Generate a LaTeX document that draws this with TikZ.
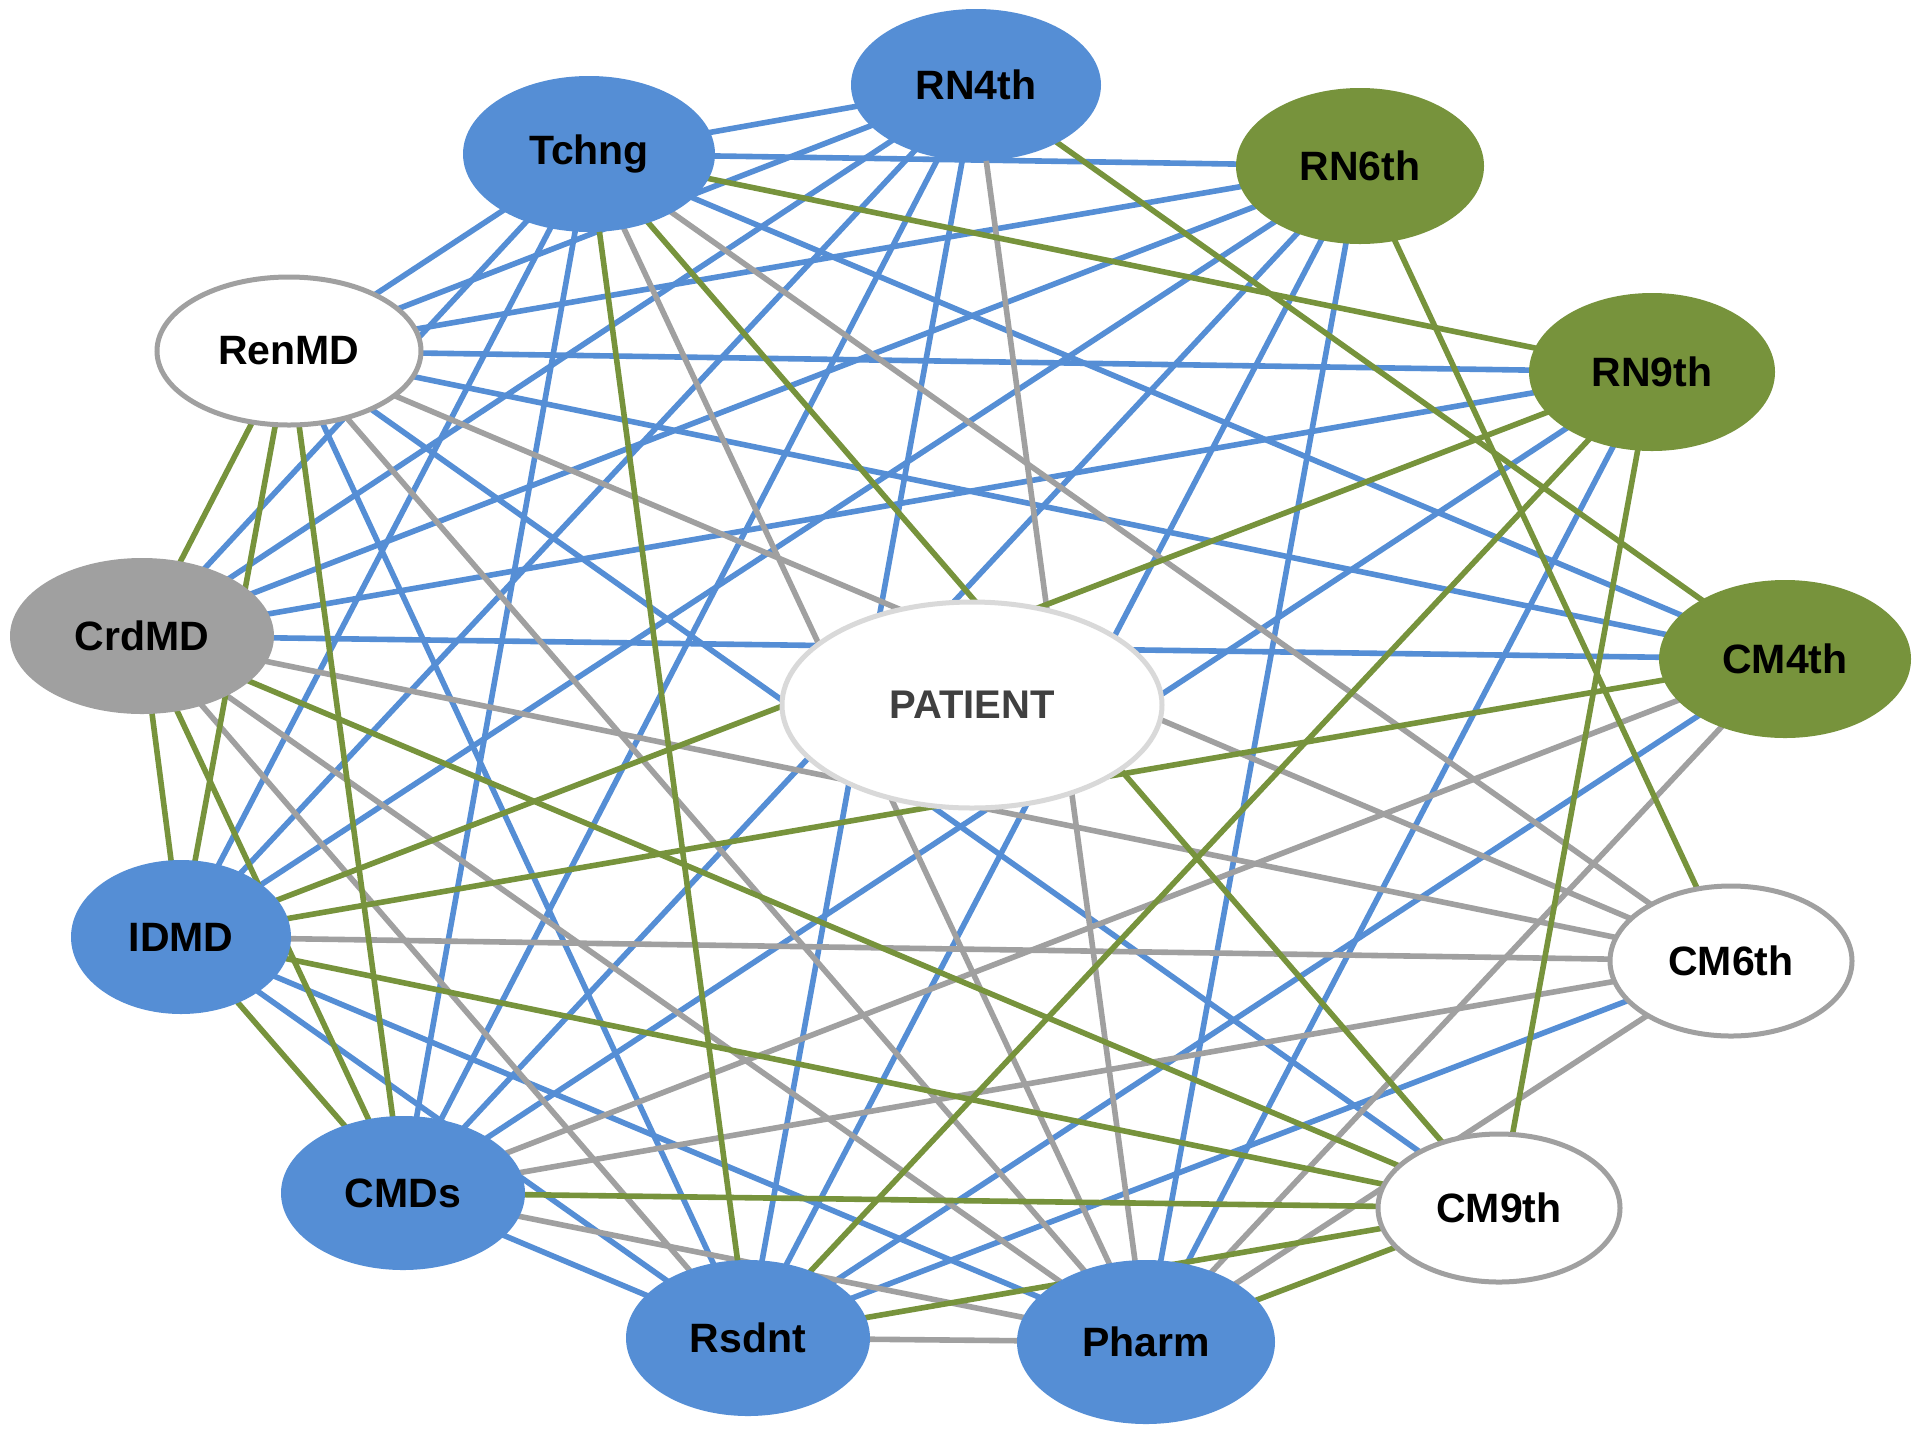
\documentclass[tikz,border=0pt]{standalone}
\usepackage{fontspec}
\setmainfont{Liberation Sans}
\usetikzlibrary{shapes.geometric}
\pgfdeclarelayer{bg}
\pgfsetlayers{bg,main}
\definecolor{eblue}{HTML}{558ED5}
\definecolor{egreen}{HTML}{77933C}
\definecolor{egray}{HTML}{A0A0A0}
\definecolor{pborder}{HTML}{D9D9D9}
\definecolor{ptext}{HTML}{404040}
\begin{document}
\begin{tikzpicture}[x=1pt,y=-1pt,
  nd/.style={ellipse, inner sep=0pt, font=\fontsize{41}{49}\selectfont\bfseries, text=black},
  bnode/.style={nd, fill=eblue},
  gnode/.style={nd, fill=egreen},
  ynode/.style={nd, fill=egray},
  wnode/.style={nd, fill=white, draw=egray, line width=5pt},
  pnode/.style={ellipse, inner sep=0pt, fill=white, draw=pborder, line width=5pt,
     font=\fontsize{40}{48}\selectfont\bfseries, text=ptext},
  eb/.style={draw=eblue, line width=5.6pt},
  eg/.style={draw=egreen, line width=5.6pt},
  ey/.style={draw=egray, line width=5.6pt}]
\useasboundingbox (0,0) rectangle (1913,1428);
\node[bnode, minimum width=250pt, minimum height=152pt] (A) at (976,85) {RN4th};
\node[bnode, minimum width=252pt, minimum height=156pt] (B) at (589,154) {Tchng};
\node[gnode, minimum width=248pt, minimum height=156pt] (C) at (1360,166) {RN6th};
\node[wnode, minimum width=264pt, minimum height=148pt] (D) at (289,351) {RenMD};
\node[gnode, minimum width=246pt, minimum height=158pt] (E) at (1652,372) {RN9th};
\node[ynode, minimum width=264pt, minimum height=156pt] (F) at (142,636) {CrdMD};
\node[gnode, minimum width=252pt, minimum height=158pt] (G) at (1785,659) {CM4th};
\node[bnode, minimum width=220pt, minimum height=154pt] (H) at (181,937) {IDMD};
\node[wnode, minimum width=242pt, minimum height=150pt] (I) at (1731,961) {CM6th};
\node[bnode, minimum width=244pt, minimum height=154pt] (J) at (403,1193) {CMDs};
\node[wnode, minimum width=242pt, minimum height=148pt] (K) at (1499,1208) {CM9th};
\node[bnode, minimum width=244pt, minimum height=156pt] (L) at (748,1338) {Rsdnt};
\node[bnode, minimum width=258pt, minimum height=164pt] (M) at (1146,1342) {Pharm};
\node[pnode, minimum width=380pt, minimum height=206pt] (P) at (972,705) {PATIENT};
\begin{pgfonlayer}{bg}
\fill[white] (0,0) rectangle (1913,1428);
\foreach \a/\b in {B/D,B/F,B/H,B/J,D/L,H/L,H/M,J/L,B/A,B/C,B/G,D/A,D/C,D/E,D/G,D/K,
  F/A,F/C,F/E,F/G,H/A,H/C,J/A,J/C,J/E,L/A,L/C,L/G,L/I,M/C,M/E}
  \draw[eb] (\a.center) -- (\b.center);
\foreach \a/\b in {B/M,D/M,F/L,F/M,J/M,L/M,B/I,D/I,F/I,H/I,J/G,J/I,M/A,M/G,M/I}
  \draw[ey] (\a.center) -- (\b.center);
\foreach \a/\b in {B/L,D/F,D/H,D/J,F/H,F/J,H/J,B/E,B/K,F/K,H/E,H/G,H/K,J/K,L/E,L/K,M/K,A/G,C/I,E/K}
  \draw[eg] (\a.center) -- (\b.center);
\end{pgfonlayer}
\end{tikzpicture}
\end{document}
